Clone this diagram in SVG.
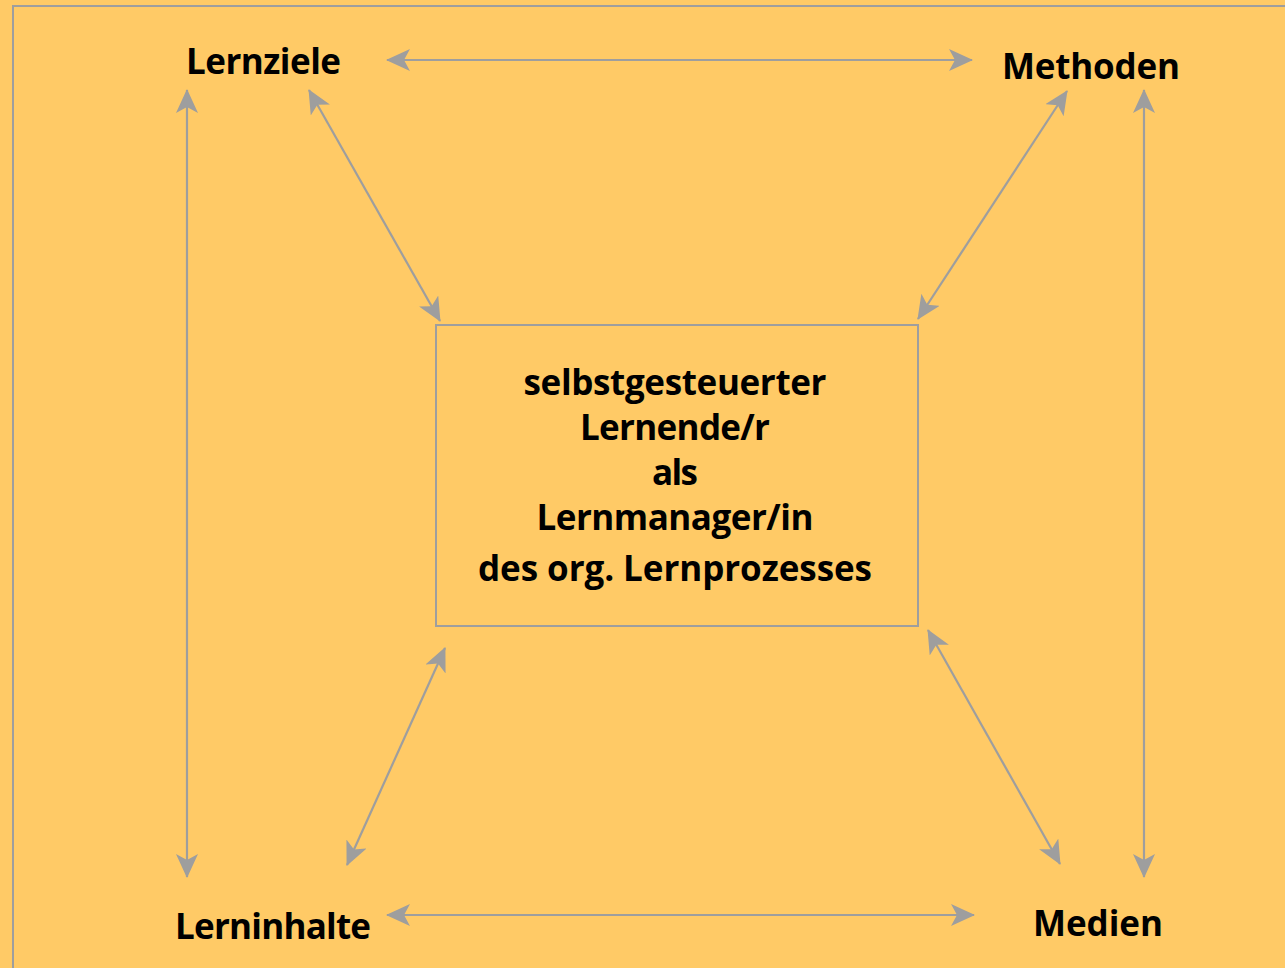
<svg xmlns="http://www.w3.org/2000/svg" width="1285" height="968" viewBox="0 0 1285 968">
<style>
.bg{fill:#FFCA66}
.frame{fill:none;stroke:#9E9E9E;stroke-width:2}
.lbl{font-family:"Open Sans","Liberation Sans",sans-serif;font-weight:bold;font-size:35px;fill:#000;text-anchor:middle}
.ctr{font-size:35px}
.con{stroke:#9E9E9E;stroke-width:2.2;fill:none;marker-start:url(#ah);marker-end:url(#ah)}
</style>
<defs>
<marker id="ah" viewBox="0 0 24 22" refX="23" refY="11" markerWidth="24" markerHeight="22" markerUnits="userSpaceOnUse" orient="auto-start-reverse">
<path d="M0,0 L24,11 L0,22 L6,11 Z" fill="#9E9E9E"/>
</marker>
</defs>
<rect class="bg" x="0" y="0" width="1285" height="968"/>
<rect class="frame" x="13" y="6" width="1290" height="980"/>
<g id="connectors">
<line class="con" x1="387" y1="60" x2="972" y2="60"/>
<line class="con" x1="387" y1="915" x2="974" y2="915"/>
<line class="con" x1="187" y1="90" x2="187" y2="877"/>
<line class="con" x1="1144" y1="90" x2="1144" y2="877"/>
<line class="con" x1="309" y1="90" x2="440" y2="321"/>
<line class="con" x1="1067" y1="91" x2="918" y2="319"/>
<line class="con" x1="445" y1="648" x2="347" y2="865"/>
<line class="con" x1="928" y1="630" x2="1060" y2="864"/>
</g>
<g id="center">
<rect class="frame" x="436" y="325" width="482" height="301"/>
<text class="lbl ctr" x="675" y="395" textLength="303">selbstgesteuerter</text>
<text class="lbl ctr" x="675" y="440" textLength="190">Lernende/r</text>
<text class="lbl ctr" x="675" y="485" textLength="46">als</text>
<text class="lbl ctr" x="675" y="530" textLength="277">Lernmanager/in</text>
<text class="lbl ctr" x="675" y="581" textLength="394">des org. Lernprozesses</text>
</g>
<g id="lernziele"><text class="lbl" x="263.5" y="74" textLength="155">Lernziele</text></g>
<g id="methoden"><text class="lbl" x="1091" y="79" textLength="178">Methoden</text></g>
<g id="lerninhalte"><text class="lbl" x="273" y="939" textLength="196">Lerninhalte</text></g>
<g id="medien"><text class="lbl" x="1098" y="936" textLength="130">Medien</text></g>
</svg>
